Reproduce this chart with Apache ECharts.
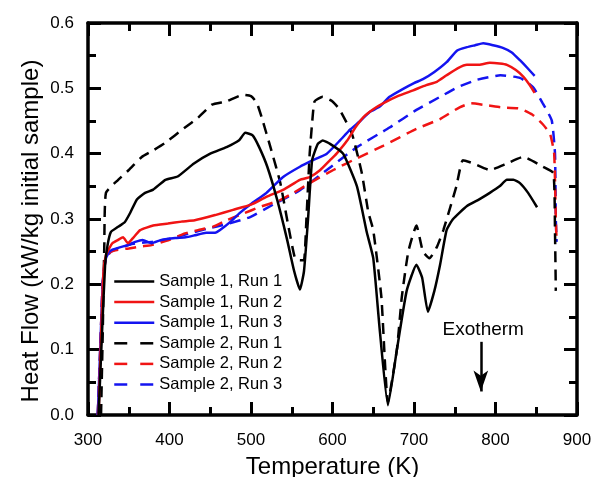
<!DOCTYPE html>
<html>
<head>
<meta charset="utf-8">
<script src="https://cdn.jsdelivr.net/npm/echarts@6/dist/echarts.min.js"></script>
<style>html,body{margin:0;padding:0;background:#fff}#c{width:592px;height:477px}</style>
</head>
<body>
<div id="c"></div>
<script>
// ---- data (Temperature K, Heat Flow kW/kg) ----
const seriesNames = ["Sample 1, Run 1","Sample 1, Run 2","Sample 1, Run 3","Sample 2, Run 1","Sample 2, Run 2","Sample 2, Run 3"];
const xTicks = [300,400,500,600,700,800,900];
const yTicks = [0.0,0.1,0.2,0.3,0.4,0.5,0.6];

const s1r1T = [313,317,321,324,328,337,345,352,360,370,380,395,410,430,450,470,485,493,502,510,520,532,544,553,560,565,570,575,582,588,597,613,630,642,650,658,668,679,691,703,710,717,725,732,740,748,765,780,793,805,814,822,830,840,851];
const s1r1V = [0.0,0.12,0.23,0.26,0.28,0.288,0.295,0.31,0.33,0.34,0.345,0.36,0.365,0.385,0.40,0.41,0.42,0.432,0.428,0.41,0.38,0.33,0.27,0.22,0.192,0.22,0.30,0.39,0.415,0.42,0.415,0.40,0.35,0.28,0.24,0.13,0.015,0.10,0.19,0.23,0.21,0.158,0.19,0.23,0.283,0.30,0.32,0.33,0.34,0.35,0.36,0.36,0.355,0.34,0.318];

const s1r2T = [313,316,319,322,326,330,337,343,349,356,364,380,398,415,431,456,478,500,519,540,560,572,585,597,605,618,628,638,650,662,680,699,715,728,740,754,765,780,793,805,814,825,834,842,848];
const s1r2V = [0.0,0.12,0.22,0.245,0.255,0.263,0.268,0.272,0.263,0.272,0.283,0.29,0.293,0.296,0.298,0.306,0.314,0.322,0.334,0.345,0.36,0.364,0.375,0.39,0.40,0.42,0.44,0.456,0.468,0.477,0.488,0.497,0.505,0.51,0.52,0.531,0.536,0.536,0.539,0.538,0.536,0.528,0.518,0.505,0.493];

const s1r3T = [312,315,318,321,325,330,340,349,358,367,378,390,407,420,431,445,456,462,475,486,500,519,539,560,576,593,609,621,634,646,658,670,685,700,711,725,740,753,765,775,785,797,809,820,830,840,848];
const s1r3V = [0.0,0.1,0.2,0.235,0.248,0.253,0.257,0.26,0.265,0.268,0.263,0.268,0.271,0.272,0.275,0.279,0.279,0.283,0.296,0.309,0.323,0.34,0.364,0.38,0.39,0.40,0.42,0.436,0.45,0.464,0.472,0.487,0.498,0.508,0.514,0.525,0.54,0.558,0.563,0.566,0.569,0.566,0.562,0.555,0.543,0.53,0.519];

const s2r1T = [316,318,320,322,337,350,366,380,394,419,435,452,470,490,500,507,513,525,536,546,554,560,565,568,572,575,578,588,600,609,624,636,644,650,660,668,679,685,693,703,711,719,728,736,752,760,773,793,814,834,858,871,873,874];
const s2r1V = [0.0,0.12,0.26,0.34,0.36,0.375,0.395,0.405,0.416,0.44,0.455,0.475,0.48,0.49,0.488,0.478,0.456,0.405,0.355,0.288,0.24,0.237,0.237,0.30,0.40,0.447,0.48,0.487,0.48,0.467,0.43,0.37,0.31,0.283,0.18,0.02,0.10,0.18,0.25,0.29,0.25,0.24,0.257,0.283,0.35,0.39,0.385,0.375,0.385,0.395,0.38,0.37,0.28,0.19];

const s2r2T = [312,315,318,322,328,337,350,365,378,400,419,435,453,470,490,510,536,552,572,601,630,662,703,732,756,770,790,806,830,845,858,867,872,874,875];
const s2r2V = [0.0,0.1,0.2,0.24,0.25,0.253,0.255,0.258,0.26,0.268,0.278,0.283,0.288,0.298,0.308,0.318,0.329,0.34,0.355,0.375,0.393,0.412,0.438,0.453,0.471,0.477,0.474,0.471,0.469,0.46,0.445,0.43,0.40,0.30,0.265];

const s2r3T = [312,315,318,322,328,337,355,378,400,425,446,470,499,527,560,593,630,670,703,732,754,777,806,830,846,858,869,873,874,875];
const s2r3V = [0.0,0.1,0.2,0.24,0.25,0.255,0.262,0.265,0.27,0.278,0.285,0.292,0.303,0.322,0.344,0.375,0.41,0.44,0.467,0.487,0.502,0.513,0.52,0.516,0.502,0.477,0.451,0.40,0.30,0.265];

const annotationText = "Exotherm";
const arrowX = 782;
const arrowFromY = 0.112;
const arrowToY = 0.036;
const textX = 785;
const textY = 0.13;

// ---- build ----
const BLACK = '#000000', RED = '#f01414', BLUE = '#1414f0';
const FONT = '"Liberation Sans", Arial, sans-serif';
const PLOT_DASH = [11, 7];
const LEGEND_DASH = [13, 13];
function pairs(t, v){ return t.map((x,i)=>[x, v[i]]); }
const defs = [
  [s1r1T,s1r1V,BLACK,'solid'],
  [s1r2T,s1r2V,RED,'solid'],
  [s1r3T,s1r3V,BLUE,'solid'],
  [s2r1T,s2r1V,BLACK,PLOT_DASH],
  [s2r2T,s2r2V,RED,PLOT_DASH],
  [s2r3T,s2r3V,BLUE,PLOT_DASH]
];
const series = defs.map((d,i)=>({
  name: seriesNames[i], type:'line', xAxisIndex:0, yAxisIndex:0,
  data: pairs(d[0], d[1]), showSymbol:false, symbol:'none', smooth:0.15,
  lineStyle:{color:d[2], width:2.5, type:d[3]}, itemStyle:{color:d[2]},
  z: 10 - i, animation:false
}));
// annotation arrow + text
series.push({
  type:'line', data:[], xAxisIndex:0, yAxisIndex:0, silent:true, animation:false,
  markLine:{
    silent:true, symbol:['none','arrow'], symbolSize:[11,21], animation:false,
    lineStyle:{color:'#000', width:2.5, type:'solid'}, label:{show:false},
    data:[[{coord:[arrowX, arrowFromY]},{coord:[arrowX, arrowToY]}]]
  },
  markPoint:{
    silent:true, symbol:'circle', symbolSize:0, animation:false,
    label:{show:true, formatter:annotationText, color:'#000', fontSize:19, fontFamily:FONT, position:'inside'},
    data:[{coord:[textX, textY]}]
  }
});

const legendData = seriesNames.map((n,i)=>({
  name:n,
  lineStyle:{width:2.5, type: i>=3 ? LEGEND_DASH : 'solid'}
}));

const axisCommon = {
  type:'value', min:300, max:900, interval:100,
  axisLine:{show:true, onZero:false, lineStyle:{color:'#000', width:3.5}},
  axisTick:{show:true, inside:true, length:13, lineStyle:{color:'#000', width:3}},
  minorTick:{show:true, splitNumber:2, length:8, lineStyle:{color:'#000', width:3}},
  splitLine:{show:false}
};
const chart = echarts.init(document.getElementById('c'), null, {renderer:'canvas'});
chart.setOption({
  animation:false,
  backgroundColor:'#fff',
  grid:{left:88, right:15, top:23, bottom:62, containLabel:false, outerBoundsMode:'none'},
  legend:{
    show:true, orient:'vertical', left:113, top:273, padding:0, itemWidth:40, itemHeight:16, itemGap:3.6,
    data: legendData, selectedMode:false,
    itemStyle:{opacity:0},
    textStyle:{fontSize:16.5, lineHeight:16, fontFamily:FONT, color:'#000'}
  },
  xAxis:[
    Object.assign({}, axisCommon, {position:'bottom',
      axisLabel:{show:true, margin:17, fontSize:17, fontFamily:FONT, color:'#000',
        formatter:(v)=> xTicks.includes(v) ? String(v) : ''},
      name:'Temperature (K)', nameLocation:'middle', nameGap:40,
      nameTextStyle:{fontSize:24, fontFamily:FONT, color:'#000'}}),
    Object.assign({}, axisCommon, {position:'top', axisLabel:{show:false}})
  ],
  yAxis:[
    Object.assign({}, axisCommon, {min:0, max:0.6, interval:0.1, position:'left',
      axisLabel:{show:true, margin:14, fontSize:17, fontFamily:FONT, color:'#000',
        formatter:(v)=> yTicks.some(t=>Math.abs(t-v)<1e-9) ? v.toFixed(1) : ''}}),
    Object.assign({}, axisCommon, {min:0, max:0.6, interval:0.1, position:'right', axisLabel:{show:false}})
  ],
  graphic:[{
    type:'text', x:31, y:231, rotation:Math.PI/2,
    style:{text:'Heat Flow (kW/kg initial sample)', fontSize:24, fontFamily:FONT, fill:'#000',
      textAlign:'center', textVerticalAlign:'middle'}
  }],
  series: series
});
</script>
</body>
</html>
